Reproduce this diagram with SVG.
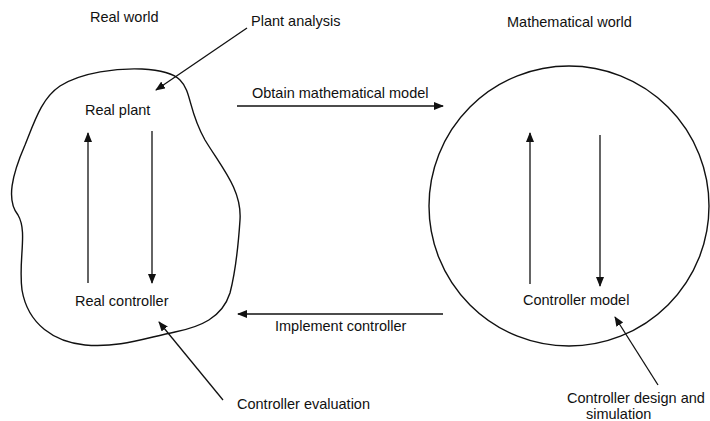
<svg xmlns="http://www.w3.org/2000/svg" width="710" height="421" viewBox="0 0 710 421">
<style>
text{font-family:"Liberation Sans",Arial,sans-serif;font-size:14.5px;fill:#111}
.ln{stroke:#111;stroke-width:1.3;fill:none}
.sh{stroke:#111;stroke-width:1.4;fill:none}
</style>
<defs>
<marker id="ah" markerWidth="10" markerHeight="8" refX="9" refY="4" orient="auto" markerUnits="userSpaceOnUse">
<path d="M0,0 L10,4 L0,8 Z" fill="#111"/>
</marker>
</defs>
<rect width="710" height="421" fill="#fff"/>
<g id="real-world">
<path class="sh" d="M180,80 C192,92 188,110 205,140 C222,168 242,190 240,220 C238,250 236,270 230,293 C222,318 200,327 175,332 C145,338 120,348 85,345 C55,342 28,325 22,290 C18,260 28,232 18,215 C6,200 12,175 25,145 C35,120 42,98 60,86 C82,72 118,68 142,69 C162,70 174,74 180,80 Z"/>
<text x="90" y="22">Real world</text>
</g>
<g id="math-world">
<circle class="sh" cx="569" cy="206" r="140"/>
<text x="507" y="27">Mathematical world</text>
</g>
<g id="real-plant"><text x="85" y="115">Real plant</text></g>
<g id="real-controller"><text x="75" y="306">Real controller</text></g>
<g id="controller-model"><text x="523" y="305">Controller model</text></g>
<g id="plant-analysis"><text x="251" y="26">Plant analysis</text></g>
<g id="controller-evaluation"><text x="237" y="409">Controller evaluation</text></g>
<g id="controller-design">
<text x="567" y="403">Controller design and<tspan x="586" y="419">simulation</tspan></text>
</g>
<g id="connectors">
<line class="ln" x1="88" y1="283" x2="88" y2="133" marker-end="url(#ah)"/>
<line class="ln" x1="152" y1="131" x2="152" y2="283" marker-end="url(#ah)"/>
<line class="ln" x1="530" y1="284" x2="530" y2="133" marker-end="url(#ah)"/>
<line class="ln" x1="600" y1="135" x2="600" y2="286" marker-end="url(#ah)"/>
<line class="ln" x1="237" y1="106" x2="443" y2="106" marker-end="url(#ah)"/>
<text x="252" y="98">Obtain mathematical model</text>
<line class="ln" x1="443" y1="314" x2="238" y2="314" marker-end="url(#ah)"/>
<text x="275" y="331">Implement controller</text>
<line class="ln" x1="247" y1="28" x2="156" y2="90" marker-end="url(#ah)"/>
<line class="ln" x1="223" y1="400" x2="159" y2="322" marker-end="url(#ah)"/>
<line class="ln" x1="658" y1="385" x2="615" y2="317" marker-end="url(#ah)"/>
</g>
</svg>
